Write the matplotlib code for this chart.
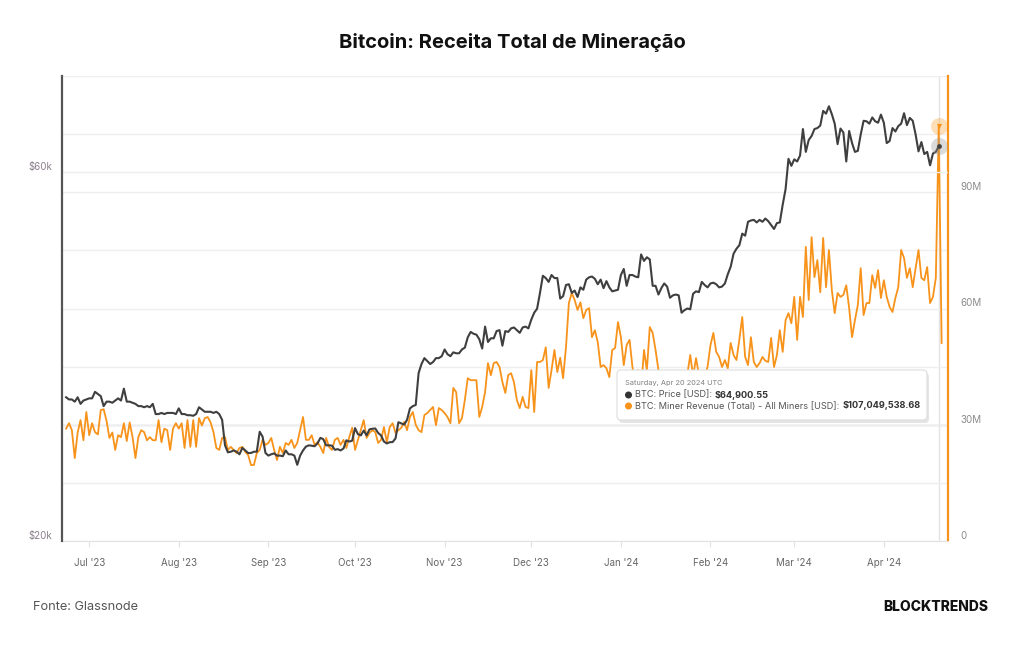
import numpy as np
import pandas as pd
import matplotlib.pyplot as plt
import matplotlib.dates as mdates
import matplotlib.ticker as mticker
from matplotlib.patches import FancyBboxPatch, Circle
from matplotlib.transforms import IdentityTransform

plt.rcParams['font.family'] = ['Inter', 'DejaVu Sans']

# BTC price (USD thousands), daily from 23 Jun 2023 to 20 Apr 2024
price_jun = [30.7, 30.5, 30.5, 30.3, 30.7, 30.1, 30.4, 30.5]
price_jul = [30.6, 30.6, 31.2, 31.0, 30.8, 29.9, 30.3, 30.3, 30.2, 30.4,
             30.6, 30.4, 31.5, 30.3, 30.3, 30.2, 30.1, 29.9, 29.9, 29.8,
             29.9, 29.8, 30.1, 29.2, 29.2, 29.3, 29.2, 29.3, 29.3, 29.3, 29.2]
price_aug = [29.7, 29.2, 29.2, 29.1, 29.1, 29.05, 29.2, 29.8, 29.6, 29.4,
             29.4, 29.4, 29.3, 29.4, 29.2, 28.7, 26.6, 26.05, 26.1, 26.2,
             26.1, 25.9, 26.4, 26.2, 26.0, 26.0, 26.1, 26.1, 27.7, 27.3, 26.0]
price_sep = [25.8, 25.9, 25.97, 25.8, 25.8, 25.75, 26.2, 25.9, 25.9, 25.8,
             25.1, 25.8, 26.2, 26.5, 26.6, 26.57, 26.53, 26.75, 27.2, 27.1,
             26.6, 26.6, 26.58, 26.25, 26.3, 26.2, 26.35, 27.0, 26.9, 26.97]
price_oct = [28.0, 27.5, 27.4, 27.8, 27.4, 27.9, 27.95, 27.97, 27.6, 27.4,
             26.9, 26.75, 26.85, 26.86, 27.15, 28.5, 28.4, 28.3, 28.7, 29.7,
             29.9, 30.0, 33.0, 33.9, 34.5, 34.2, 33.9, 34.1, 34.5, 34.5, 34.7]
price_nov = [35.4, 34.9, 34.7, 35.1, 35.0, 35.0, 35.4, 35.6, 36.7, 37.3,
             37.1, 37.0, 36.5, 35.5, 37.9, 36.2, 36.6, 36.6, 37.4, 37.5,
             35.8, 37.4, 37.3, 37.7, 37.8, 37.5, 37.2, 37.8, 37.9, 37.7]
price_dec = [38.7, 39.5, 39.97, 41.9, 44.1, 43.8, 43.3, 44.2, 43.8, 43.8,
             41.2, 41.5, 42.9, 43.0, 41.9, 42.2, 41.4, 42.6, 42.3, 43.6,
             43.9, 44.0, 43.7, 43.0, 43.6, 42.5, 43.4, 42.6, 42.1, 42.2, 42.3]
price_jan = [44.2, 45.0, 42.8, 44.2, 44.2, 44.0, 43.9, 47.0, 46.1, 46.6,
             46.3, 42.8, 42.8, 41.7, 42.5, 43.1, 42.7, 41.3, 41.6, 41.7,
             41.6, 39.5, 39.8, 40.0, 39.9, 41.8, 42.1, 42.0, 43.3, 42.9, 42.6]
price_feb = [43.1, 43.2, 43.0, 42.6, 42.7, 43.1, 44.3, 45.3, 47.1, 47.8,
             48.3, 50.0, 49.7, 51.8, 52.0, 52.1, 51.7, 52.1, 51.8, 52.3,
             51.9, 51.3, 50.7, 51.6, 51.7, 54.5, 57.1, 62.5, 61.2]
price_mar = [62.4, 62.0, 63.1, 68.3, 63.8, 66.1, 66.9, 68.3, 68.5, 69.0,
             72.1, 71.5, 73.1, 71.4, 69.4, 65.3, 68.4, 67.6, 62.0, 67.9,
             65.5, 63.8, 64.0, 67.2, 70.0, 69.9, 69.4, 70.7, 69.9, 69.6, 71.3]
price_apr = [69.6, 65.5, 65.9, 68.5, 67.8, 68.9, 69.4, 71.6, 69.1, 70.6,
             70.0, 67.2, 63.9, 65.7, 63.4, 63.8, 61.3, 63.5, 63.8, 64.90055]

# miner revenue total (USD millions), daily from 23 Jun 2023 to 21 Apr 2024
rev_jun = [29.0, 30.4, 28.6, 21.4, 28.0, 31.2, 26.0, 33.3]
rev_jul = [27.3, 30.4, 28.1, 27.5, 33.8, 34.0, 31.0, 26.6, 28.0, 23.5,
           27.3, 26.8, 30.4, 25.8, 30.6, 26.8, 21.4, 26.8, 28.6, 28.1,
           26.0, 26.8, 26.0, 26.0, 31.2, 25.5, 29.0, 28.6, 23.5, 29.0, 30.4]
rev_aug = [29.0, 30.4, 24.0, 31.2, 24.3, 31.2, 24.3, 31.7, 29.8, 31.7,
           32.0, 30.6, 28.1, 24.0, 23.5, 26.6, 26.8, 23.5, 24.3, 23.5,
           22.7, 24.0, 24.3, 23.0, 22.2, 19.6, 19.6, 22.7, 23.5, 26.1, 24.8]
rev_sep = [25.3, 26.6, 23.5, 20.9, 24.3, 22.7, 25.3, 24.8, 26.1, 24.0,
           25.3, 28.6, 32.0, 26.1, 26.1, 27.3, 24.8, 25.5, 24.3, 22.7,
           26.6, 24.3, 23.5, 26.1, 26.6, 24.8, 26.1, 24.0, 26.8, 29.2]
rev_oct = [23.5, 26.1, 28.6, 31.2, 26.6, 27.9, 28.6, 28.1, 25.3, 26.1,
           29.4, 25.5, 29.4, 30.4, 27.9, 28.6, 29.2, 30.7, 28.6, 32.0,
           33.3, 30.0, 28.6, 28.1, 32.5, 33.0, 33.8, 34.6, 29.9, 34.3, 33.8]
rev_nov = [33.0, 32.0, 30.4, 39.5, 38.4, 30.4, 31.7, 36.4, 42.0, 41.5,
           41.5, 41.5, 32.0, 34.6, 38.4, 45.9, 42.8, 45.9, 46.2, 44.9,
           41.0, 38.2, 42.8, 43.3, 41.0, 36.4, 34.3, 37.2, 34.6, 34.3]
rev_dec = [44.1, 33.3, 46.2, 46.2, 46.7, 50.0, 39.5, 44.1, 49.3, 43.6,
           47.3, 42.0, 50.0, 61.4, 64.0, 62.2, 59.6, 61.6, 57.5, 59.6,
           60.1, 52.6, 54.4, 51.3, 44.9, 45.4, 44.6, 42.3, 49.3, 49.8, 56.5]
rev_jan = [52.6, 45.4, 50.6, 51.9, 44.9, 40.5, 44.1, 39.0, 49.3, 44.1,
           55.2, 53.7, 49.3, 44.1, 40.0, 38.5, 41.0, 37.5, 40.2, 42.0,
           38.0, 41.5, 39.0, 43.0, 48.0, 42.5, 47.2, 43.0, 40.5, 42.0, 45.0]
rev_feb = [50.5, 53.7, 48.8, 47.5, 44.9, 46.7, 44.6, 51.1, 48.0, 46.7,
           52.0, 57.8, 47.5, 45.4, 52.6, 46.2, 44.9, 45.9, 47.5, 46.5,
           46.2, 52.4, 44.9, 48.0, 54.4, 48.8, 57.0, 58.8, 56.2]
rev_mar = [63.0, 51.9, 63.0, 57.8, 75.9, 62.2, 78.4, 68.1, 72.5, 64.2,
           78.2, 65.5, 75.1, 64.8, 58.8, 64.0, 63.0, 63.5, 66.0, 60.1,
           52.6, 57.0, 60.9, 70.4, 58.3, 61.4, 61.4, 68.6, 65.3, 69.9, 62.7]
rev_apr = [67.3, 63.0, 60.4, 59.1, 62.7, 65.5, 75.1, 73.0, 67.9, 70.4,
           65.5, 70.4, 75.1, 67.9, 67.3, 70.7, 61.4, 63.0, 67.9, 107.04953868, 51.1]

price = np.array(price_jun + price_jul + price_aug + price_sep + price_oct + price_nov
                 + price_dec + price_jan + price_feb + price_mar + price_apr) * 1e3
rev = np.array(rev_jun + rev_jul + rev_aug + rev_sep + rev_oct + rev_nov
               + rev_dec + rev_jan + rev_feb + rev_mar + rev_apr) * 1e6

dates_p = pd.date_range('2023-06-23', periods=len(price))
dates_r = pd.date_range('2023-06-23', periods=len(rev))
hover = pd.Timestamp('2024-04-20')

ORANGE = '#f7931a'
DARK = '#3f3f3f'
GRID = '#efefef'

fig = plt.figure(figsize=(10.24, 6.45), dpi=100)
ax = fig.add_axes([62/1024, 104/645, 886/1024, 465/645])

# revenue (right axis)
ax.plot(dates_r, rev, color=ORANGE, lw=1.3, zorder=3)
ax.set_ylim(0, 120e6)
ax.set_xlim(pd.Timestamp('2023-06-21 14:00'), pd.Timestamp('2024-04-23 05:00'))
ax.set_yticks([0, 30e6, 60e6, 90e6])
ax.set_yticklabels(['0', '30M', '60M', '90M'])
ax.set_yticks([15e6, 45e6, 75e6, 105e6, 120e6], minor=True)
ax.grid(axis='y', which='both', color=GRID, lw=1)

ax.xaxis.set_major_locator(mdates.MonthLocator())
ax.xaxis.set_major_formatter(mdates.DateFormatter("%b '%y"))
ax.tick_params(axis='x', length=4, color='#e2e2e2', pad=8, labelsize=7, labelcolor='#666666')

# crosshair
ax.axvline(hover, color='#e4e4e4', lw=1, zorder=1)
ax.axhline(30e6, color='#c4c4c4', lw=1, zorder=1)

# price (left axis, log)
axp = ax.twinx()
axp.plot(dates_p, price, color=DARK, lw=1.5, zorder=4)
axp.set_yscale('log')
axp.set_ylim(20000, 80000)
axp.yaxis.tick_left()
axp.yaxis.set_major_locator(mticker.FixedLocator([20000, 60000]))
axp.yaxis.set_major_formatter(mticker.FixedFormatter(['$20k', '$60k']))
axp.yaxis.set_minor_locator(mticker.NullLocator())
axp.tick_params(axis='y', length=0, pad=7, labelsize=7, labelcolor='#8a7f8a')
for lab in axp.get_yticklabels():
    lab.set_verticalalignment('bottom')
axp.axhline(60000, color=GRID, lw=1, zorder=0)
for s in ['top', 'right', 'bottom']:
    axp.spines[s].set_visible(False)
axp.spines['left'].set_color('#555555')
axp.spines['left'].set_linewidth(1.6)

# revenue ticks go right (twinx moved them left)
ax.yaxis.tick_right()
ax.tick_params(axis='y', which='both', length=0, pad=9, labelsize=7, labelcolor='#8a8a8a')
for lab in ax.get_yticklabels():
    lab.set_verticalalignment('bottom')
for s in ['top', 'left']:
    ax.spines[s].set_visible(False)
ax.spines['bottom'].set_color('#e2e2e2')
ax.spines['right'].set_color(ORANGE)
ax.spines['right'].set_linewidth(1.6)

# hover markers
ax.scatter([hover], [rev[dates_r == hover][0]], s=150, color=ORANGE, alpha=0.3, lw=0, zorder=5)
ax.scatter([hover], [rev[dates_r == hover][0]], s=14, marker='v', color=ORANGE, lw=0, zorder=6)
axp.scatter([hover], [price[-1]], s=150, color='#999999', alpha=0.35, lw=0, zorder=5)
axp.scatter([hover], [price[-1]], s=12, color='#444444', lw=0, zorder=6)

# tooltip
ident = IdentityTransform()
shadow = FancyBboxPatch((619, 222), 310, 50, boxstyle='round,pad=0,rounding_size=4',
                        transform=ident, facecolor='#000000', alpha=0.10, lw=0, zorder=10)
box = FancyBboxPatch((617, 225), 310, 50, boxstyle='round,pad=0,rounding_size=4',
                     transform=ident, facecolor='white', edgecolor='#dddddd', lw=0.8, zorder=11)
fig.patches.extend([shadow, box])
fig.text(625, 262, 'Saturday, Apr 20 2024 UTC', transform=ident, fontsize=5.3,
         color='#808080', va='center', zorder=12)
renderer = fig.canvas.get_renderer()
rows = [(250, '#333333', 'BTC: Price [USD]:', '$64,900.55'),
        (239, ORANGE, 'BTC: Miner Revenue (Total) - All Miners [USD]:', '$107,049,538.68')]
for y, c, lab, val in rows:
    fig.patches.append(Circle((628.5, y), 2.8, transform=ident, color=c, zorder=12))
    t = fig.text(635, y, lab, transform=ident, fontsize=6.6, color='#555555', va='center', zorder=12)
    x1 = t.get_window_extent(renderer).x1
    fig.text(x1 + 3, y, val, transform=ident, fontsize=6.6, color='#333333',
             fontweight='bold', va='center', zorder=12)

# titles and footer
fig.text(0.5, 1 - 43/645, 'Bitcoin: Receita Total de Mineração', ha='center', va='center',
         fontsize=14.5, fontweight='bold', color='#111111')
fig.text(33/1024, 1 - 607/645, 'Fonte: Glassnode', ha='left', va='center',
         fontsize=9.2, color='#555555')
fig.text(988/1024, 1 - 607/645, 'BLOCKTRENDS', ha='right', va='center',
         fontsize=10, fontweight='heavy', color='#111111')

fig.savefig('out.png', dpi=100)
